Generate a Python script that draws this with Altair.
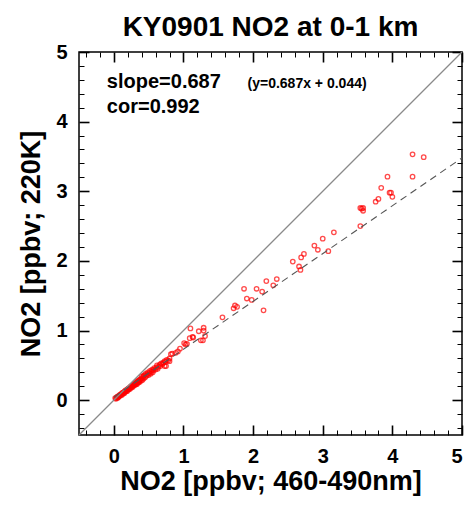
import altair as alt
import pandas as pd

# ---- data ----
cluster_x = [0.02, 0.03, 0.04, 0.05, 0.05, 0.06, 0.07, 0.07, 0.08, 0.09, 0.09, 0.10,
             0.11, 0.11, 0.12, 0.13, 0.13, 0.14, 0.15, 0.15, 0.16, 0.17, 0.17, 0.18,
             0.19, 0.19, 0.20, 0.21, 0.21, 0.22, 0.23, 0.23, 0.24, 0.25, 0.25, 0.26,
             0.27, 0.27, 0.28, 0.29, 0.29, 0.30, 0.31, 0.31, 0.32, 0.33, 0.33, 0.34,
             0.35, 0.35, 0.36, 0.37, 0.37, 0.38, 0.39, 0.40, 0.40, 0.41, 0.42, 0.43,
             0.43, 0.44, 0.45, 0.46, 0.47, 0.48, 0.49, 0.50, 0.51, 0.52, 0.53, 0.54,
             0.55, 0.56, 0.57, 0.58, 0.60, 0.61, 0.62, 0.63, 0.64, 0.66, 0.67, 0.68,
             0.70, 0.71, 0.73, 0.74, 0.76, 0.78, 0.80, 0.75, 0.80, 0.73, 0.82, 0.84,
             0.89, 0.92, 0.95]
cluster_y = [0.03, 0.02, 0.04, 0.03, 0.05, 0.04, 0.06, 0.05, 0.06, 0.07, 0.08, 0.08,
             0.09, 0.07, 0.10, 0.09, 0.11, 0.11, 0.12, 0.10, 0.13, 0.12, 0.14, 0.14,
             0.15, 0.13, 0.16, 0.15, 0.17, 0.17, 0.18, 0.16, 0.19, 0.18, 0.20, 0.20,
             0.21, 0.19, 0.22, 0.21, 0.23, 0.23, 0.22, 0.25, 0.24, 0.26, 0.23, 0.27,
             0.25, 0.28, 0.27, 0.29, 0.26, 0.30, 0.28, 0.31, 0.34, 0.29, 0.33, 0.35,
             0.31, 0.36, 0.33, 0.38, 0.35, 0.37, 0.40, 0.36, 0.39, 0.42, 0.38, 0.41,
             0.44, 0.40, 0.43, 0.46, 0.44, 0.47, 0.50, 0.45, 0.48, 0.51, 0.49, 0.53,
             0.52, 0.54, 0.56, 0.55, 0.58, 0.57, 0.60, 0.49, 0.56, 0.49, 0.66, 0.67,
             0.68, 0.70, 0.74]
upper_x = [1.01, 1.03, 1.05, 1.09, 1.14, 1.10, 1.13, 1.22, 1.25, 1.28, 1.29, 1.29,
           1.31, 1.56, 1.72, 1.74, 1.77, 1.87, 1.91, 1.98, 2.05, 2.13, 2.15, 2.19,
           2.29, 2.34, 2.57, 2.66, 2.68, 2.69, 2.73, 2.88, 2.93, 3.00, 3.08, 3.16,
           3.54, 3.54, 3.58, 3.58, 3.56, 3.76, 3.80, 3.84, 3.93, 3.96, 3.98, 4.00,
           4.29, 4.45, 4.29]
upper_y = [0.82, 0.80, 0.81, 0.89, 0.90, 1.03, 0.91, 0.99, 0.86, 0.86, 1.04, 1.00,
           0.92, 1.19, 1.32, 1.36, 1.34, 1.60, 1.46, 1.44, 1.60, 1.56, 1.29, 1.71,
           1.65, 1.74, 1.99, 1.92, 1.87, 2.05, 2.10, 2.22, 2.16, 2.32, 2.14, 2.41,
           2.50, 2.76, 2.76, 2.72, 2.75, 2.85, 2.89, 3.05, 3.21, 2.98, 2.98, 2.92,
           3.53, 3.49, 3.21]

slope = 0.687
intercept = 0.044
axis_min, axis_max = -0.5, 5.0
major_ticks = [0, 1, 2, 3, 4, 5]
minor_ticks = [-0.4, -0.2, 0.2, 0.4, 0.6, 0.8, 1.2, 1.4, 1.6, 1.8, 2.2, 2.4, 2.6, 2.8,
               3.2, 3.4, 3.6, 3.8, 4.2, 4.4, 4.6, 4.8]

title_text = "KY0901 NO2 at 0-1 km"
x_title = "NO2 [ppbv; 460-490nm]"
y_title = "NO2 [ppbv; 220K]"
stat_labels = ["slope=0.687", "cor=0.992"]
stat_x = [-0.1, -0.1]
stat_y = [4.48, 4.13]
eq_label = ["(y=0.687x + 0.044)"]
eq_x = [1.92]
eq_y = [4.49]

FONT = "Liberation Sans"

pts = pd.DataFrame({"x": cluster_x + upper_x, "y": cluster_y + upper_y})
one = pd.DataFrame({"x": [axis_min, axis_max], "y": [axis_min, axis_max]})
fit = pd.DataFrame({"x": [0.0, 5.0]})
fit["y"] = intercept + slope * fit["x"]
stats = pd.DataFrame({"x": stat_x, "y": stat_y, "t": stat_labels})
eq = pd.DataFrame({"x": eq_x, "y": eq_y, "t": eq_label})

sc = alt.Scale(domain=[axis_min, axis_max], nice=False, zero=False)


def tick_axis(orient, values, size, width):
    return alt.Axis(orient=orient, values=values, tickSize=size, offset=-size,
                    labels=False, domain=False, grid=False, title="",
                    tickColor="black", tickWidth=width)


label_x = alt.Axis(orient="bottom", values=major_ticks, ticks=False, domain=False,
                   grid=False, labelFont=FONT, labelFontSize=20, labelFontWeight="bold",
                   labelColor="black", labelPadding=11, title=x_title, titleFont=FONT,
                   titleFontSize=27, titleFontWeight="bold", titleColor="black",
                   titlePadding=2)
label_y = alt.Axis(orient="left", values=major_ticks, ticks=False, domain=False,
                   grid=False, labelFont=FONT, labelFontSize=20, labelFontWeight="bold",
                   labelColor="black", labelPadding=12, title=y_title, titleFont=FONT,
                   titleFontSize=27, titleFontWeight="bold", titleColor="black",
                   titlePadding=10)

points = alt.Chart(pts).mark_point(shape="circle", filled=False, color="#ff0000",
                                   size=20, strokeWidth=1.3).encode(
    x=alt.X("x:Q", scale=sc, axis=label_x),
    y=alt.Y("y:Q", scale=sc, axis=label_y),
)

line11 = alt.Chart(one).mark_line(color="#8a8a8a", strokeWidth=1.2).encode(
    x=alt.X("x:Q", scale=sc, axis=tick_axis("bottom", major_ticks, 10, 1.6)),
    y=alt.Y("y:Q", scale=sc, axis=tick_axis("left", major_ticks, 10, 1.6)),
)

fitline = alt.Chart(fit).mark_line(color="#555555", strokeWidth=1.1,
                                   strokeDash=[7, 5]).encode(
    x=alt.X("x:Q", scale=sc, axis=tick_axis("bottom", minor_ticks, 5, 1)),
    y=alt.Y("y:Q", scale=sc, axis=tick_axis("left", minor_ticks, 5, 1)),
)

stat_text = alt.Chart(stats).mark_text(align="left", baseline="alphabetic", font=FONT,
                                       fontSize=20, fontWeight="bold",
                                       color="black").encode(
    x=alt.X("x:Q", scale=sc, axis=tick_axis("top", major_ticks, 10, 1.6)),
    y=alt.Y("y:Q", scale=sc, axis=tick_axis("right", major_ticks, 10, 1.6)),
    text="t:N",
)

eq_text = alt.Chart(eq).mark_text(align="left", baseline="alphabetic", font=FONT,
                                  fontSize=14, fontWeight="bold",
                                  color="black").encode(
    x=alt.X("x:Q", scale=sc, axis=tick_axis("top", minor_ticks, 5, 1)),
    y=alt.Y("y:Q", scale=sc, axis=tick_axis("right", minor_ticks, 5, 1)),
    text="t:N",
)

chart = alt.layer(points, line11, fitline, stat_text, eq_text).resolve_axis(
    x="independent", y="independent"
).properties(
    width=383, height=383,
    title=alt.TitleParams(text=title_text, font=FONT, fontSize=28, fontWeight="bold",
                          color="black", anchor="middle", offset=0),
    autosize=alt.AutoSizeParams(type="none"),
    padding={"left": 71, "top": 44, "right": 2, "bottom": 63},
).configure_view(stroke="black", strokeWidth=1.5)

chart.save("out.html", embed_options={"renderer": "svg", "actions": False})
